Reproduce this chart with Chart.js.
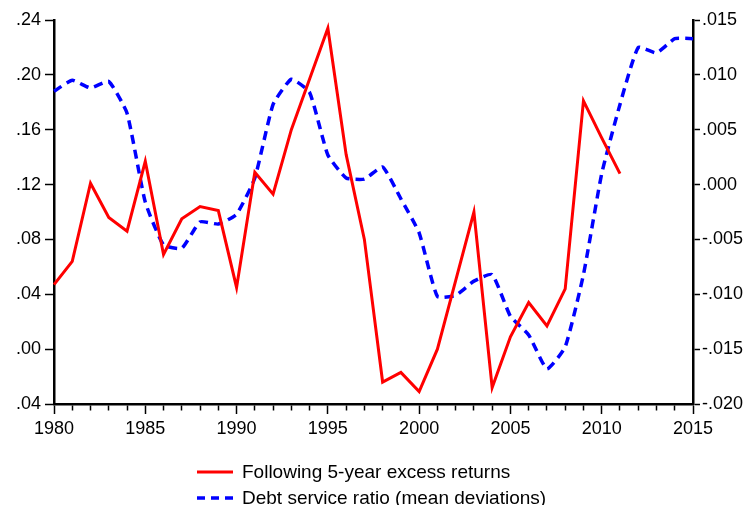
<!DOCTYPE html>
<html>
<head>
<meta charset="utf-8">
<script src="https://cdn.jsdelivr.net/npm/chart.js@4"></script>
<style>
  html, body { margin: 0; padding: 0; background: #fff; }
  #wrap { position: relative; width: 751px; height: 505px; }
  #chart { position: absolute; left: 0; top: 0; }
  .legend-row {
    position: absolute;
    left: 197px;
    height: 26px;
    line-height: 26px;
    font-family: 'Liberation Sans', Arial, sans-serif;
    font-size: 19px;
    color: #000;
    white-space: nowrap;
  }
  .legend-row svg { position: absolute; left: 0; top: 0; }
  .legend-row span { position: absolute; left: 45px; top: 0; }
</style>
</head>
<body>
<div id="wrap">
  <canvas id="chart" width="751" height="505"></canvas>
  <div class="legend-row" id="legend-returns" style="top:459px">
    <svg width="40" height="26"><line x1="0" y1="13" x2="36" y2="13" stroke="#ff0000" stroke-width="3"></line></svg>
    <span>Following 5-year excess returns</span>
  </div>
  <div class="legend-row" id="legend-dsr" style="top:485px">
    <svg width="40" height="26"><line x1="0" y1="13" x2="36" y2="13" stroke="#0000ff" stroke-width="3.5" stroke-dasharray="8 6"></line></svg>
    <span>Debt service ratio (mean deviations)</span>
  </div>
</div>
<script>
(function () {
  'use strict';

  var years = [
    1980, 1981, 1982, 1983, 1984, 1985, 1986, 1987, 1988, 1989,
    1990, 1991, 1992, 1993, 1994, 1995, 1996, 1997, 1998, 1999,
    2000, 2001, 2002, 2003, 2004, 2005, 2006, 2007, 2008, 2009,
    2010, 2011, 2012, 2013, 2014, 2015
  ];

  // left axis, ends in 2011
  var excessReturns = [
    0.047, 0.064, 0.121, 0.096, 0.086, 0.137, 0.069, 0.095, 0.104, 0.101,
    0.045, 0.129, 0.113, 0.160, 0.197, 0.234, 0.142, 0.080, -0.024, -0.017,
    -0.031, 0.000, 0.050, 0.100, -0.028, 0.009, 0.034, 0.017, 0.044, 0.181,
    0.154, 0.128, null, null, null, null
  ];

  // right axis
  var debtServiceRatio = [
    0.0085, 0.0095, 0.0088, 0.0094, 0.0065, -0.0016, -0.0055, -0.0058, -0.0034, -0.0036,
    -0.0027, 0.0006, 0.0073, 0.0096, 0.0084, 0.0027, 0.0006, 0.0005, 0.0016, -0.0013,
    -0.0044, -0.0102, -0.0101, -0.0088, -0.0082, -0.0120, -0.0137, -0.0168, -0.0148, -0.0082,
    0.0010, 0.0073, 0.0125, 0.0120, 0.0133, 0.0133
  ];

  // tick labels as printed, bottom to top
  var leftTickLabels = ['.04', '.00', '.04', '.08', '.12', '.16', '.20', '.24'];
  var rightTickLabels = ['-.020', '-.015', '-.010', '-.005', '.000', '.005', '.010', '.015'];

  Chart.defaults.font.family = "'Liberation Sans', Arial, sans-serif";
  Chart.defaults.font.size = 18;
  Chart.defaults.color = '#000';

  new Chart(document.getElementById('chart'), {
    type: 'line',
    data: {
      labels: years,
      datasets: [
        {
          label: 'Following 5-year excess returns',
          data: excessReturns,
          yAxisID: 'y',
          borderColor: '#ff0000',
          borderWidth: 3,
          pointRadius: 0,
          tension: 0,
          fill: false
        },
        {
          label: 'Debt service ratio (mean deviations)',
          data: debtServiceRatio,
          yAxisID: 'y1',
          borderColor: '#0000ff',
          borderWidth: 3.5,
          borderDash: [9, 6],
          pointRadius: 0,
          tension: 0.15,
          fill: false
        }
      ]
    },
    options: {
      responsive: false,
      animation: false,
      layout: { padding: { top: 20, left: 0, right: 0, bottom: 0 } },
      scales: {
        x: {
          type: 'category',
          offset: false,
          border: { display: true, color: '#000', width: 2.5 },
          grid: {
            drawOnChartArea: false,
            tickLength: 10,
            tickColor: '#000',
            tickWidth: 1.5,
            tickBorderDash: function (ctx) {
              return years[ctx.index] % 5 === 0 ? [] : [5, 40];
            }
          },
          ticks: {
            autoSkip: false,
            maxRotation: 0,
            padding: 4,
            callback: function (value, index) {
              return years[index] % 5 === 0 ? String(years[index]) : '';
            }
          },
          afterFit: function (scale) { scale.height = 101; }
        },
        y: {
          position: 'left',
          min: -0.04,
          max: 0.24,
          border: { display: true, color: '#000', width: 2.5 },
          grid: { drawOnChartArea: false, tickLength: 9, tickColor: '#000', tickWidth: 1.5 },
          ticks: {
            stepSize: 0.04,
            padding: 4,
            callback: function (value, index) { return leftTickLabels[index]; }
          },
          afterFit: function (scale) { scale.width = 54; }
        },
        y1: {
          position: 'right',
          min: -0.02,
          max: 0.015,
          border: { display: true, color: '#000', width: 2.5 },
          grid: { drawOnChartArea: false, tickLength: 7, tickColor: '#000', tickWidth: 1.5 },
          ticks: {
            stepSize: 0.005,
            padding: 2,
            callback: function (value, index) { return rightTickLabels[index]; }
          },
          afterFit: function (scale) { scale.width = 58; }
        }
      },
      plugins: {
        legend: { display: false },
        tooltip: { enabled: false }
      }
    }
  });
})();
</script>
</body>
</html>
